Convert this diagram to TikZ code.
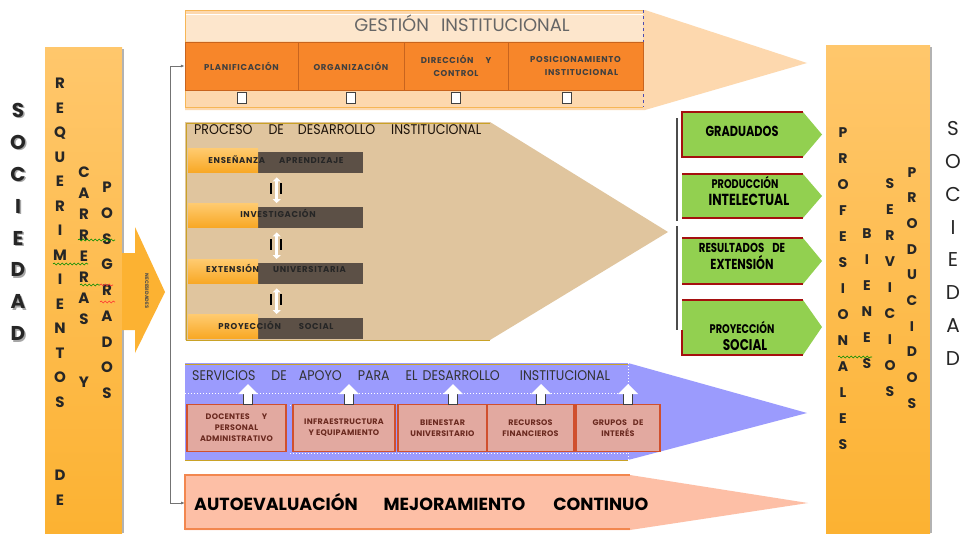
\documentclass[tikz,border=0pt]{standalone}
\usepackage{fontspec}
\setmainfont{Poppins}
\newfontfamily\narrowfont[FakeStretch=0.78]{Poppins}
\newfontfamily\titlefont[FakeStretch=0.9]{Poppins}
\usetikzlibrary{arrows.meta,decorations.pathmorphing}

\definecolor{colTop}{HTML}{FFC76C}
\definecolor{colBot}{HTML}{FCB232}
\definecolor{peachG}{HTML}{FDD8AE}
\definecolor{peachL}{HTML}{FDE6CC}
\definecolor{gestLine}{HTML}{F6B656}
\definecolor{cellOr}{HTML}{F7862A}
\definecolor{cellBd}{HTML}{C8641E}
\definecolor{tanP}{HTML}{E0C59E}
\definecolor{goldL}{HTML}{C9A227}
\definecolor{rowTop}{HTML}{FFCB70}
\definecolor{rowBot}{HTML}{F8A825}
\definecolor{rowDark}{HTML}{5C5046}
\definecolor{blueS}{HTML}{9B9BFD}
\definecolor{svcFill}{HTML}{E2A9A0}
\definecolor{svcBd}{HTML}{D0502E}
\definecolor{svcTxt}{HTML}{6B2A20}
\definecolor{autoFill}{HTML}{FDBFA6}
\definecolor{autoBd}{HTML}{F2874F}
\definecolor{grnO}{HTML}{92D050}
\definecolor{redB}{HTML}{A50F0F}

\begin{document}
\begin{tikzpicture}[x=1pt,y=-1pt]
    \tikzstyle{letters}=[align=center, inner sep=0pt, anchor=north, text=black!85]
    \tikzstyle{cell}=[draw=cellBd, fill=cellOr, minimum height=48pt, inner sep=1pt, align=center,
                      font=\bfseries\addfontfeature{LetterSpace=8}\fontsize{8.5}{13}\selectfont, text=black!75]
    \tikzstyle{conn}=[rectangle, draw=black!75, fill=white, minimum width=9pt, minimum height=11pt, inner sep=0pt]
    \tikzstyle{ttl}=[anchor=west, inner sep=0pt, font=\titlefont\fontsize{14}{16}\selectfont, text=black!80]
    \tikzstyle{rowtxt}=[inner sep=0pt, font=\bfseries\addfontfeature{LetterSpace=8}\fontsize{8.5}{10}\selectfont, text=black!85]
    \tikzstyle{rowdark}=[anchor=north west, fill=rowDark, minimum width=173pt, minimum height=21pt, inner sep=0pt]
    \tikzstyle{roworange}=[anchor=north west, top color=rowTop, bottom color=rowBot, minimum width=70pt, minimum height=24pt, inner sep=0pt]
    \tikzstyle{dbl}=[white, line width=3pt, shorten >=4pt, shorten <=4pt, {Triangle[width=8pt,length=4pt]}-{Triangle[width=8pt,length=4pt]}]
    \tikzstyle{svc}=[draw=svcBd, fill=svcFill, line width=1.2pt, minimum height=47pt, inner sep=1pt, align=center,
                     font=\bfseries\addfontfeature{LetterSpace=3}\fontsize{8}{11}\selectfont, text=svcTxt]
    \tikzstyle{outtxt}=[align=center, inner sep=0pt, font=\narrowfont\bfseries\fontsize{14.5}{17}\selectfont, text=black]
    \tikzstyle{wavy}=[decorate, decoration={snake, amplitude=1pt, segment length=4pt}, line width=0.6pt]

    \useasboundingbox (0,0) rectangle (961,533);
    \fill[white] (0,0) rectangle (961,533);

    % sociedad izquierda
    \node[letters, text=black!35, font=\bfseries\fontsize{20}{31.9}\selectfont] (socIzqSombra) at (19.5,104.5) {S\\O\\C\\I\\E\\D\\A\\D};
    \node[letters, font=\bfseries\fontsize{20}{31.9}\selectfont] (socIzq) at (18,103) {S\\O\\C\\I\\E\\D\\A\\D};

    % columna de requerimientos
    \fill[top color=colTop, bottom color=colBot] (45,47) rectangle (122,533);
    \draw[black!30, line width=1.5pt] (123,49) -- (123,533);
    \fill[colBot] (122,253) -- (135,253) -- (135,227) -- (165,292) -- (135,353) -- (135,330) -- (122,330) -- cycle;
    \node[rotate=-90, inner sep=0pt, font=\bfseries\fontsize{5}{6}\selectfont, text=black!70] (nec) at (147,291) {NECESIDADES};

    \node[letters, font=\bfseries\fontsize{15}{24.5}\selectfont] (req) at (60,78) {R\\E\\Q\\U\\E\\R\\I\\M\\I\\E\\N\\T\\O\\S\\~\\~\\D\\E};
    \node[letters, font=\bfseries\fontsize{15}{21}\selectfont] (carr) at (84,167) {C\\A\\R\\R\\E\\R\\A\\S\\~\\~\\Y};
    \node[letters, font=\bfseries\fontsize{15}{25.75}\selectfont] (posg) at (107,182) {P\\O\\S\\G\\R\\A\\D\\O\\S};
    \draw[wavy, green!55!black] (78,240) -- (115,240);
    \draw[wavy, green!55!black] (53,264) -- (88,264);
    \draw[wavy, green!55!black] (80,285) -- (100,285);
    \draw[wavy, red!80] (100,285) -- (113,285);
    \draw[wavy, red!80] (100,302) -- (115,302);

    % gestion institucional
    \fill[peachG] (185,10) -- (645,10) -- (807,63) -- (645,110) -- (185,110) -- cycle;
    \fill[peachL] (186,14) rectangle (643,41);
    \draw[gestLine, line width=1pt] (643,10) -- (185,10) -- (185,107) -- (643,107);
    \draw[white, line width=1pt] (186,14) -- (643,14);
    \draw[blue!40!gray, dashed, line width=0.6pt] (643,10) -- (643,107);
    \node[inner sep=0pt, font=\fontsize{18}{20}\selectfont, text=black!60] (gestion) at (462,23) {GESTIÓN\hspace{12pt}INSTITUCIONAL};

    \node[cell, minimum width=113pt] (plan) at (241.5,66) {PLANIFICACIÓN};
    \node[cell, minimum width=106pt] (org) at (351,66) {ORGANIZACIÓN};
    \node[cell, minimum width=104pt] (dir) at (456,66) {DIRECCIÓN\hspace{12pt}Y\\CONTROL};
    \node[cell, minimum width=135pt] (pos) at (575.5,66) {POSICIONAMIENTO\\\hspace{12pt}INSTITUCIONAL};

    \node[conn] (cPlan) at (242,98) {};
    \node[conn] (cOrg) at (351,98) {};
    \node[conn] (cDir) at (456,98) {};
    \node[conn] (cPos) at (567,98) {};

    % proceso de desarrollo institucional
    \fill[tanP] (185,122) -- (490,122) -- (668,232) -- (490,340) -- (185,340) -- cycle;
    \draw[goldL, line width=1pt] (490,123) -- (186,123) -- (186,340) -- (490,340);
    \node[ttl, text=black!85!brown] (proceso) at (194,130) {PROCESO\hspace{16pt}DE\hspace{14pt}DESARROLLO\hspace{16pt}INSTITUCIONAL};

    \node[rowdark] (ensD) at (190,152) {};
    \node[roworange] (ensO) at (188,148) {};
    \node[rowtxt] (ens) at (276,160) {ENSEÑANZA\hspace{14pt}APRENDIZAJE};
    \node[rowdark] (invD) at (190,207) {};
    \node[roworange] (invO) at (188,203) {};
    \node[rowtxt] (inv) at (278,213) {INVESTIGACIÓN};
    \node[rowdark] (extD) at (190,263) {};
    \node[roworange] (extO) at (188,259) {};
    \node[rowtxt] (ext) at (276,268) {EXTENSIÓN\hspace{14pt}UNIVERSITARIA};
    \node[rowdark] (proD) at (190,318) {};
    \node[roworange] (proO) at (188,314) {};
    \node[rowtxt] (pro) at (276,325) {PROYECCIÓN\hspace{18pt}SOCIAL};

    \draw[dbl] (ensD.south) -- (invD.north);
    \draw[dbl] (invD.south) -- (extD.north);
    \draw[dbl] (extD.south) -- (proD.north);
    \draw[black, line width=1.2pt] (271,183) -- (271,194) (281,183) -- (281,194)
                                   (271,239) -- (271,250) (281,239) -- (281,250)
                                   (271,294) -- (271,305) (281,294) -- (281,305);

    % servicios de apoyo
    \fill[blueS] (185,363) -- (628,363) -- (807,413) -- (628,460) -- (185,460) -- cycle;
    \draw[goldL, line width=1pt] (628,364) -- (185,364) (185,460) -- (628,460);
    \draw[white, dotted, line width=1pt] (185,393) -- (628,393) (290,405) -- (628,405)
                                         (290,453) -- (628,453) (628,363) -- (628,460);
    \node[ttl] (servicios) at (192,376) {SERVICIOS\hspace{16pt}DE\hspace{12pt}APOYO\hspace{16pt}PARA\hspace{16pt}EL\hspace{5pt}DESARROLLO\hspace{20pt}INSTITUCIONAL};

    \node[svc, minimum width=99pt, line width=1.8pt] (doc) at (236.5,428) {DOCENTES\hspace{12pt}Y\\PERSONAL\\ADMINISTRATIVO};
    \node[svc, minimum width=102pt] (infra) at (344,428) {INFRAESTRUCTURA\\Y EQUIPAMIENTO};
    \node[svc, minimum width=89pt] (bien) at (442.5,428) {BIENESTAR\\UNIVERSITARIO};
    \node[svc, minimum width=87pt] (recu) at (530.5,428) {RECURSOS\\FINANCIEROS};
    \node[svc, minimum width=84pt] (grup) at (618,428) {GRUPOS\hspace{6pt}DE\\INTERÉS};

    \node[conn] (uDoc) at (248,399) {};
    \node[conn] (uInf) at (349,399) {};
    \node[conn] (uBie) at (453,399) {};
    \node[conn] (uRec) at (541,399) {};
    \node[conn] (uGru) at (628,399) {};
    \fill[white] (238,394) -- (258,394) -- (248,384) -- cycle
                 (339,394) -- (359,394) -- (349,384) -- cycle
                 (443,394) -- (463,394) -- (453,384) -- cycle
                 (531,394) -- (551,394) -- (541,384) -- cycle
                 (618,394) -- (638,394) -- (628,384) -- cycle;

    % autoevaluacion
    \fill[autoFill] (185,475) -- (630,475) -- (808,503) -- (630,530) -- (185,530) -- cycle;
    \draw[autoBd, line width=1.2pt] (630,475) -- (185,475) -- (185,529) -- (630,529);
    \node[anchor=west, inner sep=0pt, font=\bfseries\fontsize{17.5}{20}\selectfont] (auto) at (194,502)
        {AUTOEVALUACIÓN\hspace{26pt}MEJORAMIENTO\hspace{28pt}CONTINUO};
    \coordinate (autoIn) at (185,503);
    \coordinate (lnkBot) at (170,503);
    \draw[black!55, line width=1pt, {Latex[length=4pt]}-{Latex[length=4pt]}] (plan.west) -| (lnkBot) -- (autoIn);

    % resultados
    \draw[black!70, line width=1.5pt] (677,118) -- (677,221) (677,226) -- (677,330);
    \fill[grnO] (682,112) -- (803,112) -- (822,134.5) -- (803,157) -- (682,157) -- cycle;
    \fill[grnO] (682,174) -- (803,174) -- (822,196) -- (803,218) -- (682,218) -- cycle;
    \fill[grnO] (682,238) -- (803,238) -- (822,261) -- (803,284) -- (682,284) -- cycle;
    \fill[grnO] (682,300) -- (803,300) -- (822,327) -- (803,355) -- (682,355) -- cycle;
    \draw[redB, line width=1.2pt] (803,112) -- (682,112) -- (682,157) -- (803,157)
                                  (803,174) -- (682,174) (682,218) -- (803,218)
                                  (803,238) -- (682,238) (682,284) -- (803,284)
                                  (803,300) -- (682,300) (682,330) -- (682,355) -- (803,355);
    \node[outtxt] (grad) at (742,131) {GRADUADOS};
    \node[outtxt] (prodInt) at (745,191) {\fontsize{12.5}{16}\selectfont PRODUCCIÓN\\\fontsize{16}{16}\selectfont\hspace{8pt}INTELECTUAL};
    \node[outtxt] (resExt) at (742,256) {\fontsize{13}{18}\selectfont RESULTADOS\hspace{8pt}DE\\EXTENSIÓN};
    \node[outtxt] (proySoc) at (742,336) {\fontsize{12.5}{19}\selectfont PROYECCIÓN\\\fontsize{15.5}{15}\selectfont\hspace{6pt}SOCIAL};

    % columna de productos
    \fill[top color=colTop, bottom color=colBot] (826,45) rectangle (930,533);
    \draw[black!30, line width=1.5pt] (931,47) -- (931,533);
    \node[letters, font=\bfseries\fontsize{14}{26}\selectfont] (prof) at (843,127) {P\\R\\O\\F\\E\\S\\I\\O\\N\\A\\L\\E\\S};
    \node[letters, font=\bfseries\fontsize{14}{26}\selectfont] (bien2) at (867,228) {B\\I\\E\\N\\E\\S};
    \node[letters, font=\bfseries\fontsize{14}{26}\selectfont] (serv) at (890,178) {S\\E\\R\\V\\I\\C\\I\\O\\S};
    \node[letters, font=\bfseries\fontsize{14}{25.7}\selectfont] (prod) at (912,167) {P\\R\\O\\D\\U\\C\\I\\D\\O\\S};
    \draw[wavy, green!55!black] (838,357) -- (872,357);

    % sociedad derecha
    \node[letters, font=\fontsize{20}{32.9}\selectfont] (socDer) at (953,121) {S\\O\\C\\I\\E\\D\\A\\D};

\end{tikzpicture}
\end{document}
